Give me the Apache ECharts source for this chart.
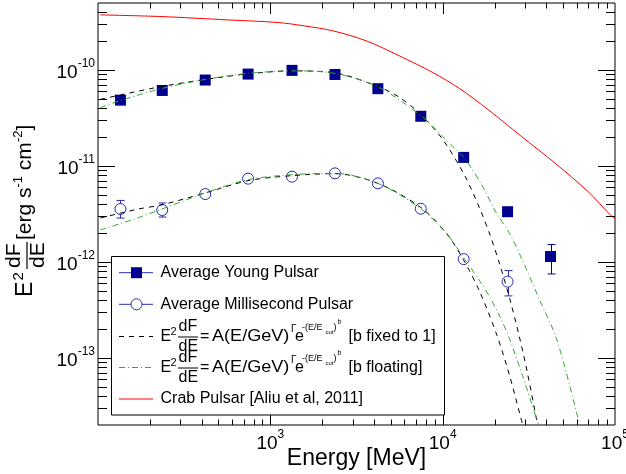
<!DOCTYPE html>
<html><head><meta charset="utf-8">
<script src="https://cdn.jsdelivr.net/npm/echarts@6/dist/echarts.min.js"></script>
<style>html,body{margin:0;padding:0;background:#fff}#c{width:626px;height:474px}</style>
</head><body><div id="c"></div>
<script>
// ---------------- data ----------------
const youngEnergy = [135, 236, 419, 743, 1336, 2372, 4207, 7464, 13240, 23800, 42250];
const youngFlux   = [4.86e-11, 6.13e-11, 7.87e-11, 9.08e-11, 9.93e-11, 9.0e-11, 6.4e-11, 3.3e-11, 1.23e-11, 3.34e-12, 1.14e-12];
const youngErrLow  = [null, null, null, null, null, null, null, null, null, null, 7.5e-13];
const youngErrHigh = [null, null, null, null, null, null, null, null, null, null, 1.52e-12];

const msEnergy = [135, 236, 419, 743, 1336, 2372, 4207, 7464, 13240, 23800];
const msFlux   = [3.56e-12, 3.48e-12, 5.1e-12, 7.38e-12, 7.75e-12, 8.39e-12, 6.6e-12, 3.59e-12, 1.07e-12, 6.24e-13];
const msErrLow  = [2.87e-12, 2.94e-12, null, null, null, null, null, null, null, 4.43e-13];
const msErrHigh = [4.38e-12, 4.12e-12, null, null, null, null, null, null, null, 8.13e-13];

const youngFixedE = [103, 135, 236, 419, 743, 1336, 2371, 4207, 5643, 7468, 10014, 13436, 16406, 18749, 21420, 24480, 27980, 31000, 35560];
const youngFixedF = [4.94e-11, 5.51e-11, 6.76e-11, 7.99e-11, 9.13e-11, 9.81e-11, 9.35e-11, 6.76e-11, 5.17e-11, 3.44e-11, 1.89e-11, 7.94e-12, 3.61e-12, 1.95e-12, 9.5e-13, 4.17e-13, 1.61e-13, 7.05e-14, 2.0e-14];

const youngFloatE = [103, 135, 236, 419, 743, 1336, 2371, 4207, 7468, 10014, 12236, 13259, 13979, 16849, 20310, 24480, 29120, 36530, 45830, 62300];
const youngFloatF = [4.05e-11, 4.82e-11, 6.44e-11, 7.99e-11, 9.24e-11, 9.81e-11, 9.24e-11, 6.68e-11, 3.36e-11, 2.03e-11, 1.42e-11, 1.24e-11, 1.085e-11, 6.39e-12, 3.34e-12, 1.97e-12, 1.03e-12, 4.02e-13, 1.58e-13, 2.03e-14];

const msFixedE = [103, 171, 236, 419, 743, 1336, 2371, 4207, 7468, 10564, 13259, 16406, 20584, 24480, 29120];
const msFixedF = [2.87e-12, 3.56e-12, 3.95e-12, 5.24e-12, 7.04e-12, 7.94e-12, 8.33e-12, 6.6e-12, 3.7e-12, 1.97e-12, 1.04e-12, 4.9e-13, 1.75e-13, 6.5e-14, 2.0e-14];

const msFloatE = [103, 171, 419, 743, 1336, 2371, 4207, 7468, 10564, 13259, 16406, 18749, 21420, 24480, 29120, 36050];
const msFloatF = [2.16e-12, 2.89e-12, 5.24e-12, 7.21e-12, 8.13e-12, 8.39e-12, 6.6e-12, 3.59e-12, 1.97e-12, 1.1e-12, 6.35e-13, 4.32e-13, 2.73e-13, 1.57e-13, 6.45e-14, 2.0e-14];

const crabE = [103, 235, 571, 1112, 1589, 2317, 3620, 5640, 8790, 12560, 18320, 28590, 44640, 69580, 95000, 100000];
const crabF = [3.76e-10, 3.61e-10, 3.33e-10, 3.13e-10, 2.88e-10, 2.56e-10, 2.01e-10, 1.40e-10, 9.4e-11, 6.4e-11, 3.88e-11, 2.04e-11, 1.08e-11, 5.44e-12, 3.03e-12, 2.82e-12];

// axes / ticks
const xMin = 100, xMax = 100000, yMin = 2e-14, yMax = 5e-10;
const xTicks = [200,300,400,500,600,700,800,900,1000,2000,3000,4000,5000,6000,7000,8000,9000,10000,20000,30000,40000,50000,60000,70000,80000,90000];
const yTicks = [3e-14,4e-14,5e-14,6e-14,7e-14,8e-14,9e-14,1e-13,2e-13,3e-13,4e-13,5e-13,6e-13,7e-13,8e-13,9e-13,1e-12,2e-12,3e-12,4e-12,5e-12,6e-12,7e-12,8e-12,9e-12,1e-11,2e-11,3e-11,4e-11,5e-11,6e-11,7e-11,8e-11,9e-11,1e-10,2e-10,3e-10,4e-10];
const xLabelExps = [3, 4, 5];
const yLabelExps = [-13, -12, -11, -10];

const legendLabels = ['Average Young Pulsar', 'Average Millisecond Pulsar', '[b fixed to 1]', '[b floating]', 'Crab Pulsar [Aliu et al, 2011]'];
const xTitle = 'Energy [MeV]';

// ---------------- styles ----------------
const FONT = '"Liberation Sans", Arial, Helvetica, sans-serif';
const NAVY = '#000090';
const BLUE = '#2a2ab4';
const GREEN = '#2fa82f';
const RED = '#ff0000';

const zip = (a, b) => a.map((v, i) => [v, b[i]]);
const isMajor = v => { const l = Math.log10(v); return Math.abs(l - Math.round(l)) < 1e-6; };

function expLabel(exps) {
  return v => {
    const l = Math.log10(v), e = Math.round(l);
    if (Math.abs(l - e) > 1e-6 || exps.indexOf(e) < 0) return '';
    return '{b|10}{s|' + e + '}';
  };
}
const labelRich = {
  b: { fontFamily: FONT, fontSize: 19, lineHeight: 24, verticalAlign: 'bottom', color: '#000' },
  s: { fontFamily: FONT, fontSize: 12, lineHeight: 14, verticalAlign: 'top', color: '#000' }
};

function errBars(E, lo, hi) {
  const d = [];
  E.forEach((e, i) => { if (lo[i] != null) d.push([e, lo[i], hi[i]]); });
  return d;
}
function errRender(color) {
  return function (params, api) {
    const a = api.coord([api.value(0), api.value(1)]);
    const b = api.coord([api.value(0), api.value(2)]);
    const x = Math.round(a[0]) + 0.5;
    const st = { stroke: color, lineWidth: 1 };
    return { type: 'group', children: [
      { type: 'line', shape: { x1: x, y1: a[1], x2: x, y2: b[1] }, style: st },
      { type: 'line', shape: { x1: x - 4, y1: a[1], x2: x + 4, y2: a[1] }, style: st },
      { type: 'line', shape: { x1: x - 4, y1: b[1], x2: x + 4, y2: b[1] }, style: st }
    ]};
  };
}
function xTickRender(params, api) {
  const cs = params.coordSys;
  const v = api.value(0);
  const p = api.coord([v, yMin]);
  const x = Math.round(p[0]) + 0.5;
  const len = isMajor(v) ? 11 : 5.5;
  const st = { stroke: '#000', lineWidth: 1 };
  return { type: 'group', children: [
    { type: 'line', shape: { x1: x, y1: cs.y + cs.height, x2: x, y2: cs.y + cs.height - len }, style: st },
    { type: 'line', shape: { x1: x, y1: cs.y, x2: x, y2: cs.y + len }, style: st }
  ]};
}
function yTickRender(params, api) {
  const cs = params.coordSys;
  const v = api.value(1);
  const p = api.coord([xMin, v]);
  const y = Math.round(p[1]) + 0.5;
  const len = isMajor(v) ? 17 : 9;
  const st = { stroke: '#000', lineWidth: 1 };
  return { type: 'group', children: [
    { type: 'line', shape: { x1: cs.x, y1: y, x2: cs.x + len, y2: y }, style: st },
    { type: 'line', shape: { x1: cs.x + cs.width, y1: y, x2: cs.x + cs.width - len, y2: y }, style: st }
  ]};
}

// ---------------- legend + titles (graphic) ----------------
function txt(x, y, text, size, align) {
  return { type: 'text', x: x, y: y, silent: true,
    style: { text: text, fontFamily: FONT, fontSize: size, fill: '#000', align: align || 'left', verticalAlign: 'middle' } };
}
function formulaRow(cy, tail) {
  return [
    txt(160.5, cy, 'E', 16),
    txt(170.5, cy - 5, '2', 11),
    txt(178.5, cy - 10, 'dF', 16),
    txt(178.5, cy + 10, 'dE', 16),
    { type: 'line', silent: true, shape: { x1: 178, y1: cy + 0.5, x2: 198, y2: cy + 0.5 }, style: { stroke: '#000', lineWidth: 1 } },
    txt(200, cy, '=', 16),
    Object.assign(txt(212, cy, 'A(E/GeV)', 16), { scaleX: 1.13 }),
    txt(291, cy - 7, 'Γ', 10),
    txt(295, cy, 'e', 16),
    txt(302, cy - 9, '-(E/E', 9),
    txt(325.5, cy - 4, 'cut', 6),
    txt(333.5, cy - 9, ')', 9),
    txt(337.5, cy - 14, 'b', 7),
    txt(348.5, cy, tail, 16)
  ];
}
const legendX0 = 119, legendX1 = 153;
const rows = [272.7, 304.3, 336.5, 367.5, 399];
const legendItems = [
  { type: 'line', shape: { x1: legendX0, y1: rows[0], x2: legendX1, y2: rows[0] }, style: { stroke: BLUE, lineWidth: 1 } },
  { type: 'rect', shape: { x: 131, y: rows[0] - 5.5, width: 11, height: 11 }, style: { fill: NAVY } },
  { type: 'line', shape: { x1: legendX0, y1: rows[1], x2: legendX1, y2: rows[1] }, style: { stroke: BLUE, lineWidth: 1 } },
  { type: 'circle', shape: { cx: 136.5, cy: rows[1], r: 5.5 }, style: { fill: '#fff', stroke: BLUE, lineWidth: 1 } },
  { type: 'line', shape: { x1: legendX0, y1: rows[2], x2: legendX1, y2: rows[2] }, style: { stroke: '#000', lineWidth: 1, lineDash: [5, 5] } },
  { type: 'line', shape: { x1: legendX0, y1: rows[3], x2: legendX1, y2: rows[3] }, style: { stroke: GREEN, lineWidth: 1, lineDash: [6, 3, 1, 3] } },
  { type: 'line', shape: { x1: legendX0, y1: rows[4], x2: legendX1, y2: rows[4] }, style: { stroke: RED, lineWidth: 1 } },
  txt(160.5, rows[0], legendLabels[0], 16),
  txt(160.5, rows[1], legendLabels[1], 16),
  txt(160.5, rows[4], legendLabels[4], 16)
].concat(formulaRow(rows[2], legendLabels[2])).concat(formulaRow(rows[3], legendLabels[3]))
 .map(e => Object.assign(e, { z: 101, silent: true }));

const yTitle = { type: 'group', x: 25.5, y: 297, rotation: Math.PI / 2, silent: true, z: 50, children: [
  txt(0, 0, 'E', 23),
  txt(16.5, -7, '2', 15),
  txt(29, -11, 'dF', 21),
  txt(29, 13, 'dE', 21),
  { type: 'line', shape: { x1: 28, y1: 1.5, x2: 55, y2: 1.5 }, style: { stroke: '#000', lineWidth: 1.2 } },
  txt(57, 0, '[erg s', 21),
  txt(109.5, -7, '-1', 13),
  txt(121, 0, ' cm', 21),
  txt(155, -7, '-2', 13),
  txt(166.5, 0, ']', 21)
]};

const graphic = [
  { type: 'rect', silent: true, z: 100, shape: { x: 111.5, y: 256.5, width: 333, height: 158.5 }, style: { fill: '#fff', stroke: '#000', lineWidth: 1 } }
].concat(legendItems).concat([
  Object.assign(txt(356.5, 458.5, xTitle, 23, 'center'), { z: 50 }),
  yTitle
]);

// ---------------- chart ----------------
const chart = echarts.init(document.getElementById('c'), null, { renderer: 'canvas' });
const lineBase = { type: 'line', showSymbol: false, smooth: 0.3, z: 3, silent: true };
const option = {
  animation: false,
  backgroundColor: '#fff',
  grid: { left: 98, right: 11, top: 3, bottom: 49, show: true, borderColor: '#000', borderWidth: 1, backgroundColor: 'transparent', containLabel: false, outerBoundsMode: 'none' },
  xAxis: {
    type: 'log', logBase: 10, min: xMin, max: xMax,
    axisLine: { show: false }, axisTick: { show: false }, splitLine: { show: false }, minorTick: { show: false },
    axisLabel: { margin: 4, showMinLabel: true, showMaxLabel: true, hideOverlap: false, formatter: expLabel(xLabelExps), rich: labelRich }
  },
  yAxis: {
    type: 'log', logBase: 10, min: yMin, max: yMax,
    axisLine: { show: false }, axisTick: { show: false }, splitLine: { show: false }, minorTick: { show: false },
    axisLabel: { margin: 3, showMinLabel: true, showMaxLabel: true, hideOverlap: false, formatter: expLabel(yLabelExps), rich: labelRich }
  },
  series: [
    { type: 'custom', name: 'xticks', silent: true, renderItem: xTickRender, data: xTicks.map(v => [v, yMin]), z: 5 },
    { type: 'custom', name: 'yticks', silent: true, renderItem: yTickRender, data: yTicks.map(v => [xMin, v]), z: 5 },
    { type: 'scatter', name: legendLabels[0], data: zip(youngEnergy, youngFlux), symbol: 'rect', symbolSize: 11, itemStyle: { color: NAVY, opacity: 1 }, z: 2 },
    { type: 'custom', name: 'youngErr', silent: true, renderItem: errRender(NAVY), data: errBars(youngEnergy, youngErrLow, youngErrHigh), z: 2 },
    { type: 'scatter', name: legendLabels[1], data: zip(msEnergy, msFlux), symbol: 'circle', symbolSize: 11, itemStyle: { color: '#fff', borderColor: BLUE, borderWidth: 1, opacity: 1 }, z: 2 },
    { type: 'custom', name: 'msErr', silent: true, renderItem: errRender(BLUE), data: errBars(msEnergy, msErrLow, msErrHigh), z: 2 },
    Object.assign({}, lineBase, { name: 'youngFixed', data: zip(youngFixedE, youngFixedF), lineStyle: { color: '#000', width: 1, type: [5, 5] } }),
    Object.assign({}, lineBase, { name: 'msFixed', data: zip(msFixedE, msFixedF), lineStyle: { color: '#000', width: 1, type: [5, 5] } }),
    Object.assign({}, lineBase, { name: 'youngFloat', data: zip(youngFloatE, youngFloatF), lineStyle: { color: GREEN, width: 1, type: [6, 3, 1, 3] } }),
    Object.assign({}, lineBase, { name: 'msFloat', data: zip(msFloatE, msFloatF), lineStyle: { color: GREEN, width: 1, type: [6, 3, 1, 3] } }),
    Object.assign({}, lineBase, { name: 'crab', data: zip(crabE, crabF), lineStyle: { color: RED, width: 1 } })
  ],
  graphic: graphic
};
chart.setOption(option);
</script>
</body></html>
